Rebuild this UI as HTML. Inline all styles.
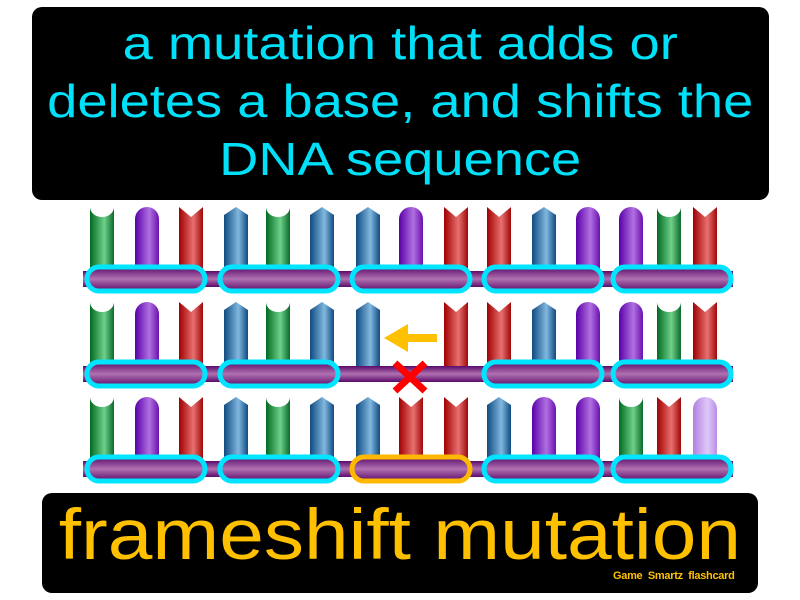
<!DOCTYPE html>
<html><head><style>
html,body{margin:0;padding:0;background:#fff;width:800px;height:600px;overflow:hidden}
.box{position:absolute;background:#000;border-radius:10px}
.t{font-family:"Liberation Sans","DejaVu Sans",sans-serif;text-align:center;position:absolute;left:0;right:0}
.s{display:inline-block;transform:scaleX(1.18);transform-origin:center}
</style></head><body>
<div class="box" style="left:32px;top:7px;width:737px;height:193px"></div>
<div class="t" style="top:14px;left:32px;width:737px;color:#00e0f8;font-size:46px;line-height:58px"><span class="s">a mutation that adds or<br>deletes a base, and shifts the<br>DNA sequence</span></div>
<div class="box" style="left:42px;top:493px;width:716px;height:100px"></div>
<div class="t" style="top:493px;left:42px;width:716px;color:#ffc000;font-size:71px;line-height:86px"><span class="s" style="transform:scaleX(1.13)">frameshift mutation</span></div>
<div class="t" style="top:570px;left:613px;width:140px;right:auto;color:#ffc000;font-size:11px;text-align:left;font-weight:bold;letter-spacing:-0.3px">Game&nbsp; Smartz&nbsp; flashcard</div>
<svg width="800" height="600" style="position:absolute;left:0;top:0">
<defs>
<linearGradient id="gg" x1="0" x2="1"><stop offset="0" stop-color="#006a20"/><stop offset=".6" stop-color="#6fd08a"/><stop offset="1" stop-color="#0a6a2a"/></linearGradient>
<linearGradient id="gp" x1="0" x2="1"><stop offset="0" stop-color="#5a00a8"/><stop offset=".6" stop-color="#b070e0"/><stop offset="1" stop-color="#6a10b0"/></linearGradient>
<linearGradient id="glp" x1="0" x2="1"><stop offset="0" stop-color="#b080e0"/><stop offset=".6" stop-color="#e0c8f8"/><stop offset="1" stop-color="#b890e8"/></linearGradient>
<linearGradient id="gr" x1="0" x2="1"><stop offset="0" stop-color="#a00000"/><stop offset=".6" stop-color="#e87070"/><stop offset="1" stop-color="#a00808"/></linearGradient>
<linearGradient id="gb" x1="0" x2="1"><stop offset="0" stop-color="#104a80"/><stop offset=".6" stop-color="#80b8e0"/><stop offset="1" stop-color="#104a80"/></linearGradient>
<linearGradient id="bb" x1="0" y1="0" x2="0" y2="1"><stop offset="0" stop-color="#5a0a6a"/><stop offset=".5" stop-color="#b070b0"/><stop offset="1" stop-color="#5a0a6a"/></linearGradient>
<symbol id="G" overflow="visible"><path d="M0,0 A12,10 0 0 0 24,0 V64 H0Z" fill="url(#gg)"/></symbol>
<symbol id="P" overflow="visible"><path d="M0,64 V12 A12,12 0 0 1 24,12 V64Z" fill="url(#gp)"/></symbol>
<symbol id="L" overflow="visible"><path d="M0,64 V12 A12,12 0 0 1 24,12 V64Z" fill="url(#glp)"/></symbol>
<symbol id="R" overflow="visible"><path d="M0,0 L12,10 L24,0 V64 H0Z" fill="url(#gr)"/></symbol>
<symbol id="B" overflow="visible"><path d="M0,8 L12,0 L24,8 V64 H0Z" fill="url(#gb)"/></symbol>
</defs>
<g transform="translate(0,207)">
<use href="#G" x="90"/><use href="#P" x="135"/><use href="#R" x="179"/><use href="#B" x="224"/><use href="#G" x="266"/><use href="#B" x="310"/><use href="#B" x="356"/><use href="#P" x="399"/><use href="#R" x="444"/><use href="#R" x="487"/><use href="#B" x="532"/><use href="#P" x="576"/><use href="#P" x="619"/><use href="#G" x="657"/><use href="#R" x="693"/>
<rect x="83" y="64" width="650" height="16" fill="url(#bb)"/>
<g fill="url(#bb)" stroke="#00e5ff" stroke-width="5"><rect x="87" y="60" width="118" height="24" rx="12"/><rect x="220" y="60" width="118" height="24" rx="12"/><rect x="352" y="60" width="118" height="24" rx="12"/><rect x="484" y="60" width="118" height="24" rx="12"/><rect x="613" y="60" width="118" height="24" rx="12"/></g>
</g>
<g transform="translate(0,302)">
<use href="#G" x="90"/><use href="#P" x="135"/><use href="#R" x="179"/><use href="#B" x="224"/><use href="#G" x="266"/><use href="#B" x="310"/><use href="#B" x="356"/><use href="#R" x="444"/><use href="#R" x="487"/><use href="#B" x="532"/><use href="#P" x="576"/><use href="#P" x="619"/><use href="#G" x="657"/><use href="#R" x="693"/>
<rect x="83" y="64" width="650" height="16" fill="url(#bb)"/>
<g fill="url(#bb)" stroke="#00e5ff" stroke-width="5"><rect x="87" y="60" width="118" height="24" rx="12"/><rect x="220" y="60" width="118" height="24" rx="12"/><rect x="484" y="60" width="118" height="24" rx="12"/><rect x="613" y="60" width="118" height="24" rx="12"/></g>
<path d="M384,36 L408,22 V32 H437 V40 H408 V50Z" fill="#ffc000"/>
<path d="M395,61 L425,89 M425,61 L395,89" stroke="#ff0000" stroke-width="7"/>
</g>
<g transform="translate(0,397)">
<use href="#G" x="90"/><use href="#P" x="135"/><use href="#R" x="179"/><use href="#B" x="224"/><use href="#G" x="266"/><use href="#B" x="310"/><use href="#B" x="356"/><use href="#R" x="399"/><use href="#R" x="444"/><use href="#B" x="487"/><use href="#P" x="532"/><use href="#P" x="576"/><use href="#G" x="619"/><use href="#R" x="657"/><use href="#L" x="693"/>
<rect x="83" y="64" width="650" height="16" fill="url(#bb)"/>
<g fill="url(#bb)" stroke="#00e5ff" stroke-width="5"><rect x="87" y="60" width="118" height="24" rx="12"/><rect x="220" y="60" width="118" height="24" rx="12"/><rect x="484" y="60" width="118" height="24" rx="12"/><rect x="613" y="60" width="118" height="24" rx="12"/></g>
<rect x="352" y="60" width="118" height="24" rx="12" fill="url(#bb)" stroke="#ffb800" stroke-width="5"/>
</g>
</svg>
</body></html>
